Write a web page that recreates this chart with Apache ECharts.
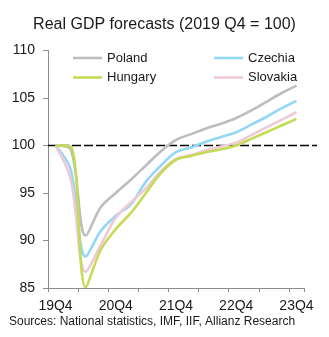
<!DOCTYPE html>
<html>
<head>
<meta charset="utf-8">
<script src="https://cdn.jsdelivr.net/npm/echarts@6/dist/echarts.min.js"></script>
<style>
html,body{margin:0;padding:0;background:#fff;}
#chart{width:329px;height:337px;}
</style>
</head>
<body>
<div id="chart"></div>
<script>
var quarters = ['19Q4','20Q1','20Q2','20Q3','20Q4','21Q1','21Q2','21Q3','21Q4','22Q1','22Q2','22Q3','22Q4','23Q1','23Q2','23Q3','23Q4'];
var poland   = [100, 99.6, 90.5, 93.5, 95.0, 96.4, 97.9, 99.4, 100.6, 101.2, 101.8, 102.3, 102.9, 103.7, 104.6, 105.5, 106.3];
var czechia  = [100, 97.5, 88.3, 91.0, 92.6, 93.8, 96.2, 97.9, 99.3, 99.8, 100.4, 100.9, 101.4, 102.2, 103.0, 103.9, 104.7];
var hungary  = [100, 99.9, 85.1, 89.0, 91.2, 92.9, 95.0, 97.1, 98.5, 98.9, 99.3, 99.6, 100.0, 100.7, 101.4, 102.1, 102.8];
var slovakia = [100, 96.5, 86.7, 89.5, 92.4, 94.0, 95.5, 97.3, 98.6, 99.0, 99.5, 99.9, 100.3, 101.1, 101.9, 102.7, 103.5];
var refX = [0, 1];
var refY = [100, 100];

var FONT = '"Liberation Sans", Arial, sans-serif';
var chart = echarts.init(document.getElementById('chart'), null, {renderer: 'canvas'});

function lineSeries(name, data, color, z) {
  return {
    name: name, type: 'line', data: data, xAxisIndex: 0, yAxisIndex: 0,
    smooth: 0.35, symbol: 'none', z: z,
    lineStyle: {color: color, width: 2.6},
    itemStyle: {color: color}
  };
}

var legendCommon = {
  orient: 'vertical', top: 46, icon: 'rect',
  itemWidth: 29, itemHeight: 2.6, itemGap: 5.5,
  textStyle: {fontFamily: FONT, fontSize: 13, lineHeight: 14, color: '#1a1a1a'}
};

chart.setOption({
  animation: false,
  backgroundColor: '#ffffff',
  title: {
    text: 'Real GDP forecasts (2019 Q4 = 100)',
    left: 'center', top: 12,
    textStyle: {fontFamily: FONT, fontSize: 16, fontWeight: 'normal', color: '#1a1a1a'}
  },
  graphic: [{
    type: 'text', left: 9, top: 316,
    style: {text: 'Sources: National statistics, IMF, IIF, Allianz Research', font: '12px ' + FONT, fill: '#1a1a1a'}
  }],
  legend: [
    Object.assign({data: ['Poland', 'Hungary'], left: 68}, legendCommon),
    Object.assign({data: ['Czechia', 'Slovakia'], left: 209}, legendCommon)
  ],
  grid: [
    {left: 48, right: 25, top: 50.5, bottom: 49, containLabel: false},
    {left: 48, right: 12, top: 50.5, bottom: 49, containLabel: false}
  ],
  xAxis: [{
    type: 'category', data: quarters, boundaryGap: true, gridIndex: 0,
    axisLine: {show: true, lineStyle: {color: '#8c8c8c', width: 1}},
    axisTick: {show: true, interval: 1, length: 4, lineStyle: {color: '#8c8c8c'}},
    axisLabel: {interval: 3, margin: 11, fontFamily: FONT, fontSize: 14, color: '#1a1a1a'},
    splitLine: {show: false}
  }, {
    type: 'value', gridIndex: 1, min: 0, max: 1, show: false
  }],
  yAxis: [{
    type: 'value', min: 85, max: 110, interval: 5, gridIndex: 0,
    axisLine: {show: true, lineStyle: {color: '#8c8c8c', width: 1}},
    axisTick: {show: true, length: 5, lineStyle: {color: '#8c8c8c'}},
    axisLabel: {margin: 13, fontFamily: FONT, fontSize: 14, color: '#1a1a1a'},
    splitLine: {show: false}
  }, {
    type: 'value', min: 85, max: 110, gridIndex: 1, show: false
  }],
  series: [
    {
      name: 'ref', type: 'line', xAxisIndex: 1, yAxisIndex: 1, z: 1,
      data: refX.map(function (x, i) { return [x, refY[i]]; }),
      symbol: 'none', lineStyle: {color: '#000', width: 1.3, type: [9, 3]}, silent: true
    },
    lineSeries('Poland', poland, '#bdbdbd', 2),
    lineSeries('Czechia', czechia, '#92d8f6', 3),
    lineSeries('Slovakia', slovakia, '#efc9d5', 4),
    lineSeries('Hungary', hungary, '#c6db55', 5)
  ]
});
</script>
</body>
</html>
